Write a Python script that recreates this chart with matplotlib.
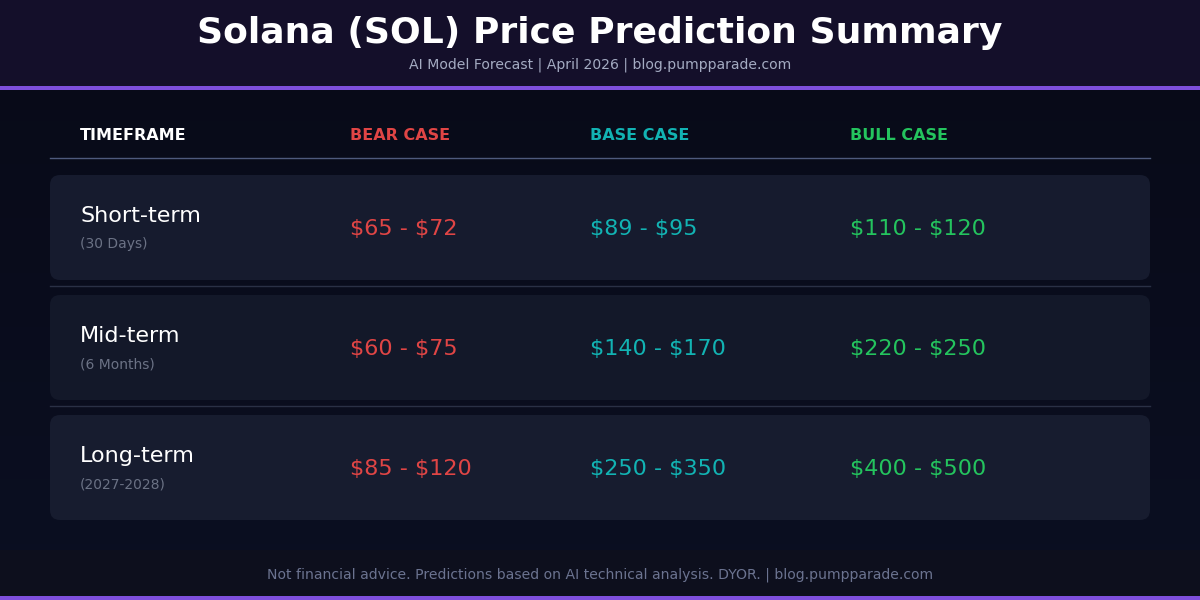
import numpy as np
import matplotlib
matplotlib.use("Agg")
import matplotlib.pyplot as plt
from matplotlib.patches import FancyBboxPatch, Rectangle
from matplotlib.colors import LinearSegmentedColormap

plt.rcParams["font.family"] = ["DejaVu Sans"]
plt.rcParams["text.parse_math"] = False

# ---- data ----
title = "Solana (SOL) Price Prediction Summary"
subtitle = "AI Model Forecast | April 2026 | blog.pumpparade.com"
footer = "Not financial advice. Predictions based on AI technical analysis. DYOR. | blog.pumpparade.com"
columns = ["TIMEFRAME", "BEAR CASE", "BASE CASE", "BULL CASE"]
timeframes = ["Short-term", "Mid-term", "Long-term"]
periods = ["(30 Days)", "(6 Months)", "(2027-2028)"]
bear = ["$65 - $72", "$60 - $75", "$85 - $120"]
base = ["$89 - $95", "$140 - $170", "$250 - $350"]
bull = ["$110 - $120", "$220 - $250", "$400 - $500"]

# ---- style ----
W, H = 1200, 600
fig = plt.figure(figsize=(12, 6), dpi=100)
ax = fig.add_axes([0, 0, 1, 1])
ax.set_xlim(0, W)
ax.set_ylim(H, 0)
ax.axis("off")

bg = LinearSegmentedColormap.from_list("bg", ["#080a17", "#0b0f22"])
grad = np.linspace(0, 1, 256).reshape(-1, 1)
ax.imshow(grad, cmap=bg, extent=[0, W, H, 0], aspect="auto", zorder=0)

# header
ax.add_patch(Rectangle((0, 0), W, 86, color="#140f2a", zorder=1, lw=0))
ax.add_patch(Rectangle((0, 86), W, 4, color="#7e4fdc", zorder=2, lw=0))
ax.text(W / 2, 43, title, ha="center", va="baseline", color="white",
        fontsize=26, fontweight="bold", zorder=3)
ax.text(W / 2, 69, subtitle, ha="center", va="baseline", color="#a4abc2",
        fontsize=10.1, zorder=3)

# footer
ax.add_patch(Rectangle((0, 550), W, 46, color="#0d0f1d", zorder=1, lw=0))
ax.add_patch(Rectangle((0, 596), W, 4, color="#7e4fdc", zorder=2, lw=0))
ax.text(W / 2, 579, footer, ha="center", va="baseline", color="#6b7390",
        fontsize=10.1, zorder=3)

# column headers
col_x = [80, 350, 590, 850]
col_colors = ["#ffffff", "#e04545", "#12b3b3", "#24c45e"]
for cx, name, c in zip(col_x, columns, col_colors):
    ax.text(cx, 140, name, ha="left", va="baseline", color=c,
            fontsize=11.5, fontweight="bold", zorder=3)
ax.plot([50, 1150], [158, 158], color="#4e5a7c", lw=1, zorder=3)

# rows
row_top0, row_h, row_gap = 175, 105, 120
card_colors = ["#161b2e", "#131829", "#171c2f"]
n = len(timeframes)
for i in range(n):
    top = row_top0 + i * row_gap
    ax.add_patch(FancyBboxPatch((50, top), 1100, row_h,
                                boxstyle="round,pad=0,rounding_size=10",
                                fc=card_colors[i], ec="none", zorder=2))
    if i < n - 1:
        ax.plot([50, 1150], [top + row_h + 5.5] * 2, color="#2a3045", lw=1, zorder=3)
    ax.text(80, top + 47, timeframes[i], ha="left", va="baseline",
            color="white", fontsize=16, zorder=4)
    ax.text(80, top + 73, periods[i], ha="left", va="baseline",
            color="#6b7285", fontsize=10, zorder=4)
    for cx, vals, c in zip(col_x[1:], [bear, base, bull], col_colors[1:]):
        ax.text(cx, top + 60, vals[i], ha="left", va="baseline",
                color=c, fontsize=16, zorder=4)

fig.savefig("out.png", dpi=100, facecolor="#080a17")
